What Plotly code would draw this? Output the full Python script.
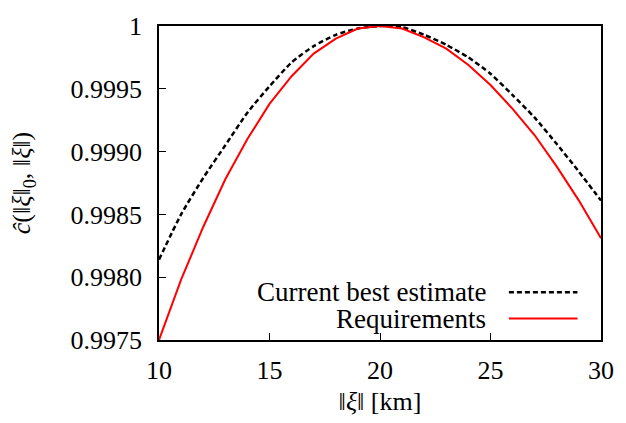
import plotly.graph_objects as go

# Data
xi = list(range(10, 31))
best_estimate = [0.99814, 0.99850, 0.99879, 0.99905, 0.99931, 0.99952, 0.99971, 0.99984,
                 0.99993, 0.99998, 1.00000, 0.99999, 0.99993, 0.99985, 0.99975, 0.99962,
                 0.99945, 0.99927, 0.99906, 0.99884, 0.99861]
requirements = [0.99750, 0.99798, 0.99840, 0.99878, 0.99910, 0.99938, 0.99960, 0.99978,
                0.99990, 0.99998, 1.00000, 0.99998, 0.99991, 0.99982, 0.99969, 0.99953,
                0.99934, 0.99913, 0.99888, 0.99861, 0.99831]
series_names = ["Current best estimate", "Requirements"]
y_tickvals = [0.9975, 0.9980, 0.9985, 0.9990, 0.9995, 1.0]
y_ticktext = ["0.9975", "0.9980", "0.9985", "0.9990", "0.9995", "1"]
x_tickvals = [10, 15, 20, 25, 30]

FONT = "Liberation Serif"
BLACK_DASH = "5px,3px"

fig = go.Figure()
fig.add_trace(go.Scatter(x=xi, y=best_estimate, mode="lines", name=series_names[0],
                         line=dict(color="black", width=2.5, dash=BLACK_DASH, shape="spline", smoothing=0.6),
                         showlegend=False))
fig.add_trace(go.Scatter(x=xi, y=requirements, mode="lines", name=series_names[1],
                         line=dict(color="#ff0000", width=2), showlegend=False))

# legend drawn with the text on the left of the line samples (as in the reference)
legend_rows = [(series_names[0], 0.1517, dict(color="black", width=2.5, dash=BLACK_DASH)),
               (series_names[1], 0.0681, dict(color="#ff0000", width=2))]
for name, yy, ln in legend_rows:
    fig.add_annotation(x=0.7428, y=yy, xref="paper", yref="paper", text=name,
                       showarrow=False, xanchor="right", yanchor="middle", borderpad=0,
                       font=dict(family=FONT, size=27, color="black"))
    fig.add_shape(type="line", xref="paper", yref="paper", x0=0.7916, x1=0.9468,
                  y0=yy, y1=yy, line=ln)

axis_common = dict(showline=True, linecolor="black", linewidth=1.5, mirror=True,
                   ticks="inside", ticklen=7, tickwidth=1.2, tickcolor="black",
                   showgrid=False, zeroline=False,
                   tickfont=dict(family=FONT, size=26, color="black"))

fig.update_layout(
    width=626, height=423,
    margin=dict(l=159, r=16, t=22, b=78),
    plot_bgcolor="white", paper_bgcolor="white",
    font=dict(family=FONT, color="black"),
    xaxis=dict(range=[10, 30], tickvals=x_tickvals, ticklabelstandoff=6,
               title=dict(text="‖<i>ξ</i>‖ [km]", font=dict(family=FONT, size=26, color="black"),
                          standoff=8),
               **axis_common),
    yaxis=dict(range=[0.9975, 1.0], tickvals=y_tickvals, ticktext=y_ticktext,
               ticklabelstandoff=10,
               title=dict(text="<i>ĉ</i>(‖<i>ξ</i>‖<sub>0</sub>, ‖<i>ξ</i>‖)",
                          font=dict(family=FONT, size=26, color="black"), standoff=32),
               **axis_common),
)

fig.write_html("out.html")
